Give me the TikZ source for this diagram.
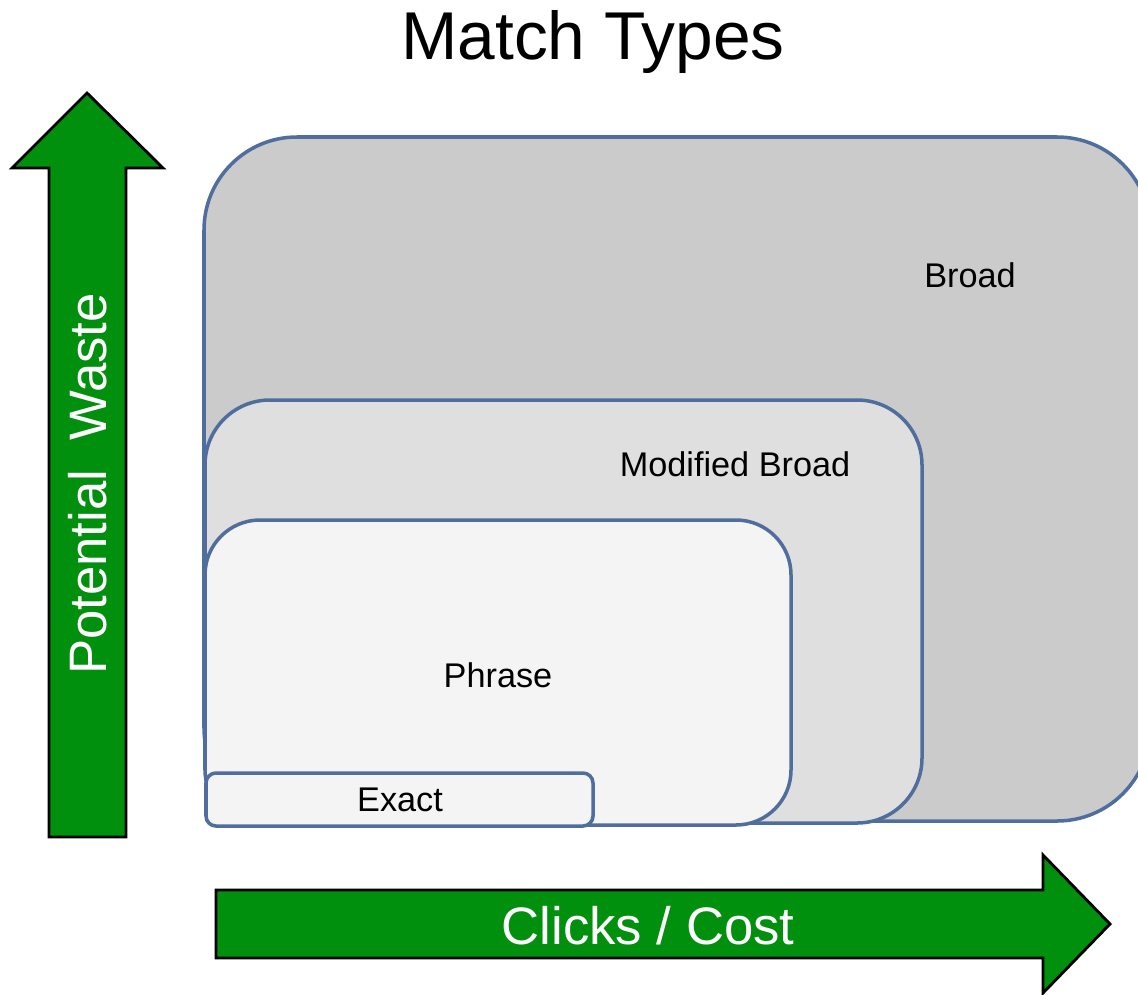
\documentclass[tikz,border=0pt]{standalone}
\usepackage{fontspec}
\setmainfont{Liberation Sans}
\definecolor{boxblue}{HTML}{4F6E9E}
\definecolor{arrowgreen}{HTML}{00900E}
\definecolor{broadgray}{HTML}{CBCBCB}
\definecolor{modgray}{HTML}{DFDFDF}
\definecolor{phrasegray}{HTML}{F4F4F4}
\begin{document}
\begin{tikzpicture}[x=0.02cm, y=-0.02cm,
		matchbox/.style={draw=boxblue, line width=2pt},
		bigarrow/.style={draw=black, line width=1.6pt, fill=arrowgreen, line join=miter},
		label/.style={inner sep=0pt, font=\fontsize{19.5}{22}\selectfont},
		arrowlabel/.style={inner sep=0pt, text=white, font=\fontsize{30}{34}\selectfont}]
		\useasboundingbox (0, 0) rectangle (1138, 994);
		% title
		\node[inner sep=0pt, font=\fontsize{38.5}{42}\selectfont] (title) at (593, 42) {Match Types};
		% nested match type boxes
		\draw[matchbox, fill=broadgray, rounded corners=1.86cm] (204, 137) rectangle (1150, 821);
		\draw[matchbox, fill=modgray, rounded corners=1.3cm] (205, 400) rectangle (922, 823);
		\draw[matchbox, fill=phrasegray, rounded corners=1.1cm] (205, 520) rectangle (791, 825);
		\draw[matchbox, fill=phrasegray, rounded corners=0.2cm] (206, 773) rectangle (593, 826);
		\node[label] (broad) at (970, 275) {Broad};
		\node[label] (modbroad) at (735, 464) {Modified Broad};
		\node[label] (phrase) at (498, 675) {Phrase};
		\node[label] (exact) at (400, 800) {Exact};
		% axis arrows
		\draw[bigarrow] (49, 837) -- (49, 168) -- (12, 168) -- (87, 93) -- (163, 168) -- (126, 168) -- (126, 837) -- cycle;
		\draw[bigarrow] (216, 890) -- (1043, 890) -- (1043, 855) -- (1110, 924) -- (1043, 993) -- (1043, 958) -- (216, 958) -- cycle;
		\node[arrowlabel, rotate=90] (waste) at (88, 484) {Potential\ \ Waste};
		\node[arrowlabel] (clicks) at (648, 926) {Clicks / Cost};
	\end{tikzpicture}
\end{document}
